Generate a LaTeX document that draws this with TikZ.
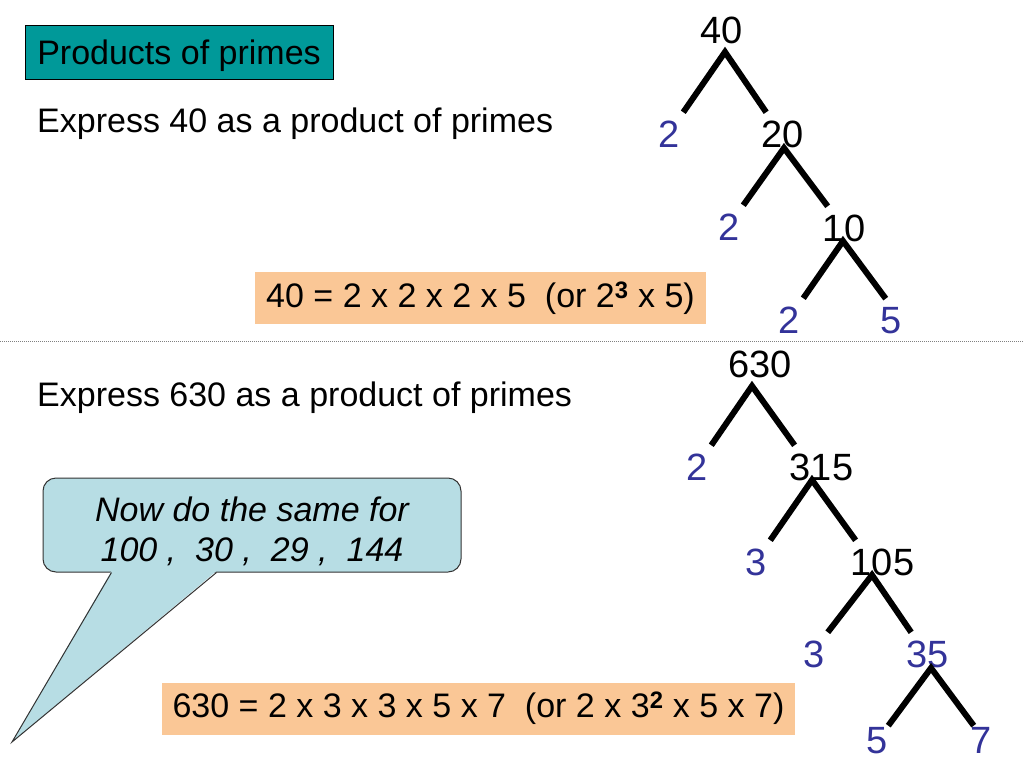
\documentclass[tikz,border=0pt]{standalone}
\usepackage{fontspec}
\setmainfont{Liberation Sans}
\usepackage{tikz}
\usetikzlibrary{positioning,calc}
\definecolor{tealbox}{RGB}{0,153,153}
\definecolor{peach}{RGB}{250,199,150}
\definecolor{bubblefill}{RGB}{183,221,228}
\definecolor{primeblue}{RGB}{51,51,153}

\begin{document}
\begin{tikzpicture}[x=1pt,y=-1pt,
  every node/.style={inner sep=0pt},
  txt/.style={font=\fontsize{34}{40}\selectfont},
  comp/.style={anchor=base,font=\fontsize{38}{44}\selectfont},
  prime/.style={comp,text=primeblue},
  branch/.style={line width=6pt},
  titlebox/.style={txt,draw=black,line width=1pt,fill=tealbox,minimum width=308pt,minimum height=53pt,
    text height=31pt,text depth=7pt},
  answer/.style={txt,fill=peach,minimum height=52pt},
  bubble/.style={font=\fontsize{34}{40}\selectfont\itshape,draw=black!80,line width=1pt,fill=bubblefill,
    rounded corners=13pt,minimum width=418pt,minimum height=94pt,align=center}]
\useasboundingbox (0,0) rectangle (1024,768);

% headings
\node[titlebox] (title) at (179,52.5) {Products of primes};
\node[txt,anchor=base west] (task40) at (37,132) {Express 40 as a product of primes};
\node[txt,anchor=base west] (task630) at (37,406) {Express 630 as a product of primes};
\draw[gray,line width=1pt,dash pattern=on 1pt off 1pt] (0,341) -- (1024,341);

% tree of 40
\node[comp] (n40) at (721.5,43.5) {40};
\node[prime] (f2a) at (669.5,147) {2};
\node[comp] (n20) at (782.5,147) {20};
\node[prime] (f2b) at (729.5,240) {2};
\node[comp] (n10) at (844,241) {10};
\node[prime] (f2c) at (789.5,333) {2};
\node[prime] (f5a) at (891.5,333) {5};
\coordinate (a40) at ([xshift=3.5pt,yshift=-8.5pt]n40.base);
\coordinate (a20) at ([xshift=1.5pt,yshift=-1pt]n20.base);
\coordinate (a10) at ([xshift=-1pt]n10.base);
\draw[branch] ([xshift=3pt,yshift=8pt]f2a.north east) -- (a40) -- ([xshift=5pt,yshift=8pt]n20.north west);
\draw[branch] ([xshift=3pt,yshift=8pt]f2b.north east) -- (a20) -- ([xshift=5pt,yshift=8pt]n10.north west);
\draw[branch] ([xshift=3pt,yshift=8pt]f2c.north east) -- (a10) -- ([xshift=5pt,yshift=8pt]f5a.north west);

\node[answer,minimum width=451pt] (ans40) at (480.5,298)
  {40 = 2 x 2 x 2 x 5~~(or 2\textsuperscript{\textbf{3}} x 5)};

% tree of 630
\node[comp] (n630) at (760,377) {630};
\node[prime] (f2d) at (697.5,480) {2};
\node[comp] (n315) at (821.5,480) {315};
\node[prime] (f3a) at (756.5,575) {3};
\node[comp] (n105) at (882.5,575) {105};
\node[prime] (f3b) at (814,667) {3};
\node[prime] (n35) at (927.5,667) {35};
\node[prime] (f5b) at (877.5,753) {5};
\node[prime] (f7) at (981,753) {7};
\coordinate (a630) at ([xshift=-8pt,yshift=-9pt]n630.base);
\coordinate (a315) at ([xshift=-9.5pt]n315.base);
\coordinate (a105) at ([xshift=-10.5pt]n105.base);
\coordinate (a35) at ([xshift=3.5pt,yshift=-1pt]n35.base);
\draw[branch] ([xshift=3pt,yshift=8pt]f2d.north east) -- (a630) -- ([xshift=5pt,yshift=8pt]n315.north west);
\draw[branch] ([xshift=3pt,yshift=8pt]f3a.north east) -- (a315) -- ([xshift=5pt,yshift=8pt]n105.north west);
\draw[branch] ([xshift=3pt,yshift=8pt]f3b.north east) -- (a105) -- ([xshift=5pt,yshift=8pt]n35.north west);
\draw[branch] ([yshift=1pt]f5b.north east) -- (a35) -- ([xshift=3.5pt,yshift=1pt]f7.north west);

\node[answer,minimum width=633pt] (ans630) at (478.5,708.5)
  {630 = 2 x 3 x 3 x 5 x 7~~(or 2 x 3\textsuperscript{\textbf{2}} x 5 x 7)};

% speech bubble
\node[bubble] (note) at (252,525)
  {\rule{0pt}{37pt}Now do the same for\\100 ,\hspace{19pt}30 ,\hspace{19pt}29 ,\hspace{19pt}144};
\coordinate (tip) at (12,742);
\fill[bubblefill] ([xshift=69pt,yshift=1.5pt]note.south west) -- (tip) -- ([xshift=174pt,yshift=1.5pt]note.south west) -- cycle;
\draw[black!80,line width=1pt] ([xshift=69pt]note.south west) -- (tip) -- ([xshift=174pt]note.south west);
\end{tikzpicture}
\end{document}
